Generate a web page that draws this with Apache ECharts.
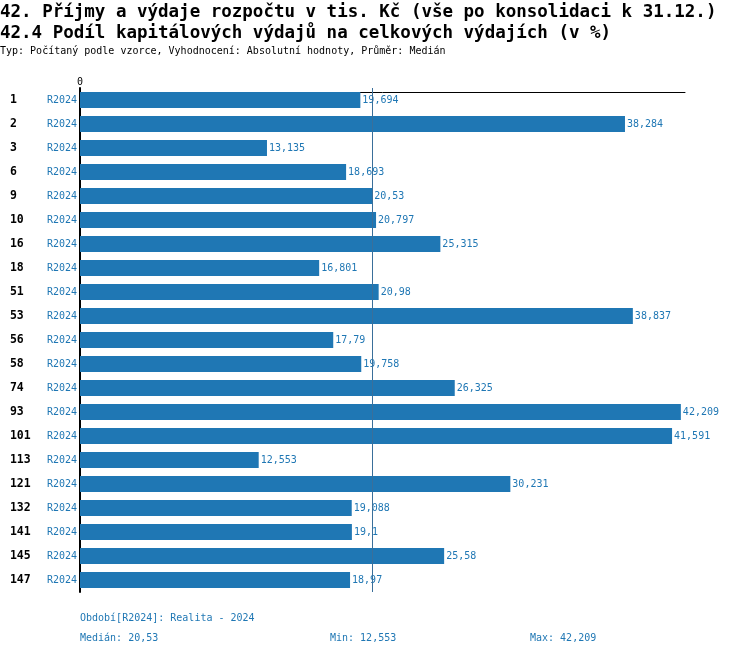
<!DOCTYPE html>
<html><head><meta charset="utf-8">
<script src="https://cdn.jsdelivr.net/npm/echarts@6/dist/echarts.min.js"></script>
<style>html,body{margin:0;padding:0;background:#fff}#c{width:750px;height:656px}</style>
</head><body><div id="c"></div>
<script>
const categories = ['1','2','3','6','9','10','16','18','51','53','56','58','74','93','101','113','121','132','141','145','147'];
const periodLabel = 'R2024';
const values = [19.694,38.284,13.135,18.693,20.53,20.797,25.315,16.801,20.98,38.837,17.79,19.758,26.325,42.209,41.591,12.553,30.231,19.088,19.1,25.58,18.97];
const median = 20.53, minVal = 12.553, maxVal = 42.209;
const titleLines = ['42. Příjmy a výdaje rozpočtu v tis. Kč (vše po konsolidaci k 31.12.)','42.4 Podíl kapitálových výdajů na celkových výdajích (v %)'];
const subText = 'Typ: Počítaný podle vzorce, Vyhodnocení: Absolutní hodnoty, Průměr: Medián';
const periodNote = 'Období[R2024]: Realita - 2024';

const fmt = v => String(v).replace('.', ',');
const FONT = '"DejaVu Sans Mono", "Liberation Mono", monospace';
const BLUE = '#1f77b4';
const t = (text, left, top, size, weight, color) => ({text, left, top, padding: 0, textStyle: {fontFamily: FONT, fontSize: size, fontWeight: weight, color}});

const chart = echarts.init(document.getElementById('c'));
chart.setOption({
  animation: false,
  textStyle: {fontFamily: FONT},
  grid: {left: 80, right: 65, top: 88, bottom: 64, containLabel: false},
  title: [
    t(titleLines[0], 0, 3, 17.5, 'bold', '#000'),
    t(titleLines[1], 0, 24, 17.5, 'bold', '#000'),
    t(subText, 0, 46, 10, 'normal', '#000'),
    t(periodNote, 80, 613, 10, 'normal', BLUE),
    t('Medián: ' + fmt(median), 80, 633, 10, 'normal', BLUE),
    t('Min: ' + fmt(minVal), 330, 633, 10, 'normal', BLUE),
    t('Max: ' + fmt(maxVal), 530, 633, 10, 'normal', BLUE)
  ],
  xAxis: {
    type: 'value', position: 'top', min: 0, max: 42.5, interval: 42.5, offset: -4,
    splitLine: {show: false},
    axisTick: {show: false},
    axisLine: {show: true, lineStyle: {color: '#000', width: 1}},
    axisLabel: {fontFamily: FONT, fontSize: 10, color: '#000', margin: 5, formatter: v => v === 0 ? '0' : ''}
  },
  yAxis: {
    type: 'category', inverse: true, data: categories,
    axisTick: {show: false},
    axisLine: {show: true, lineStyle: {color: '#000', width: 2}},
    axisLabel: {
      margin: 3,
      formatter: v => '{a|' + v + '}{b|' + periodLabel + '}',
      rich: {
        a: {width: 37, align: 'left', fontFamily: FONT, fontSize: 11.5, fontWeight: 'bold', color: '#000'},
        b: {fontFamily: FONT, fontSize: 10, color: BLUE}
      }
    }
  },
  series: [{
    type: 'bar', data: values, barWidth: 16,
    itemStyle: {color: BLUE},
    label: {show: true, position: 'right', distance: 2, fontFamily: FONT, fontSize: 10, color: BLUE, formatter: p => fmt(p.value)},
    markLine: {
      silent: true, symbol: 'none', label: {show: false},
      lineStyle: {color: '#3a6f9a', width: 1, type: 'solid'},
      data: [{xAxis: median}]
    }
  }]
});
</script></body></html>
